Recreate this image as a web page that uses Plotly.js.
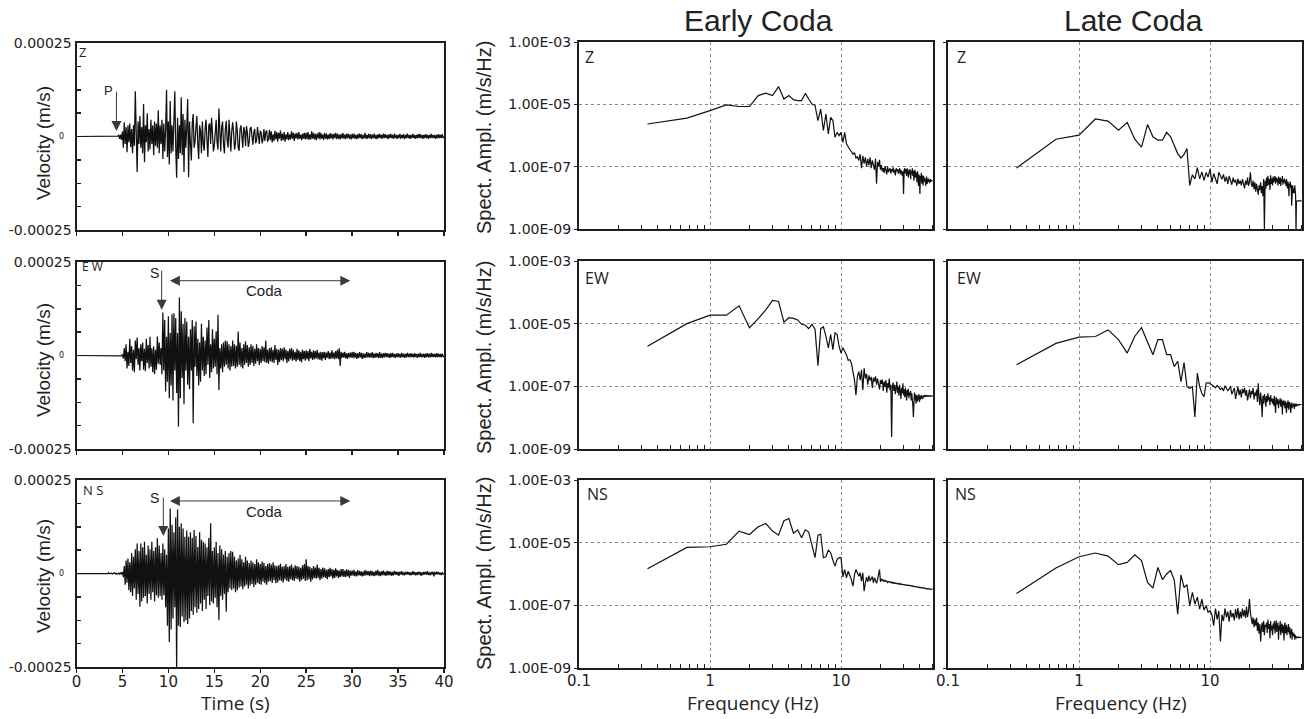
<!DOCTYPE html>
<html>
<head>
<meta charset="utf-8">
<script src="https://cdn.plot.ly/plotly-3.0.1.min.js"></script>
<style>
  html, body { margin: 0; padding: 0; background: #fff; }
  #chart { width: 1310px; height: 719px; }
</style>
</head>
<body>
<div id="chart"></div>
<script>
// ---- Velocity records, one sample every DT seconds, values in micrometres per second ----
const DT = 0.1;
const TIME_TICKS = [0, 5, 10, 15, 20, 25, 30, 35, 40];
const TIME_TICK_TEXT = ['0', '5', '10', '15', '20', '25', '30', '35', '40'];

const velZ = [
  0,0,0,0,0,0,0,0,0,0,
  0,0,0,0,0,0,0,0,0,0,
  0,0,0,0,0,0,0,0,0,0,
  0,0,0,0,0,0,0,0,0,0,
  0,0,0,0,0,1,4,-6,5,-9,
  14,-30,38,-20,25,-42,30,-15,35,-28,
  20,-45,30,-25,121,-35,-95,40,-20,55,
  -30,25,-45,87,-69,30,-15,62,-40,20,
  -35,45,-20,30,-50,40,-25,35,-30,70,
  -45,30,-20,45,-60,35,-40,20,125,-55,
  40,-75,95,-45,30,-40,60,121,-30,-110,
  50,-60,30,-45,105,-50,60,-95,45,-30,
  25,100,-109,40,-20,-64,35,60,-30,-15,
  25,55,-20,-60,30,15,-45,40,-20,-38,
  20,45,-10,-55,30,35,-20,50,10,-40,
  -25,30,45,-15,-35,75,-10,-40,25,40,
  -20,-45,20,42,-10,-30,45,-20,-40,15,
  38,10,-35,-20,40,15,-30,-38,20,30,
  -10,-30,25,15,-25,28,10,-28,-15,22,
  25,-5,-22,12,20,-18,-10,25,-8,-20,
  15,10,-18,-8,20,-12,12,16,-14,-6,
  18,-10,14,-16,6,-12,15,-8,12,-14,
  10,-6,16,-12,8,-10,12,-14,6,-8,
  12,-10,6,-8,14,-6,10,-12,8,-5,
  10,-8,12,-6,5,-10,8,-6,10,-8,
  10,-7,12,-9,6,-8,14,-6,10,-8,
  7,-10,8,-5,12,-8,10,-6,5,-9,
  10,-6,8,-8,5,-7,9,-5,7,-8,
  7,-4,10,-7,8,-6,5,-8,7,-5,
  9,-6,5,-7,8,-4,7,-6,5,-8,
  7,-5,8,-6,4,-7,6,-5,8,-4,
  6,-7,4,-5,10,-6,4,-6,7,-4,
  6,-7,5,-4,8,-6,4,-7,6,-4,
  7,-4,4,-6,8,-4,6,-4,4,-7,
  6,-4,7,-4,4,-6,8,-4,4,-6,
  4,-4,7,-6,4,-4,6,-7,4,-4,
  8,-4,4,-6,4,-4,7,-4,4,-6,
  4,-4,6,-4,7,-4,4,-6,4,-4,
  6,-4,4,-6,4,-4,7,-4,4,-4,
  4,-6,4,-4,6,-4,4,-4,6,-4,
  0
];

const velEW = [
  0,0,0,0,0,0,0,0,0,0,
  0,0,0,0,0,0,0,0,0,0,
  0,1,0,-1,0,0,1,0,-1,0,
  0,0,1,0,-1,0,0,1,0,0,
  -1,0,1,0,0,-1,0,1,0,-1,
  3,-8,20,-15,30,-35,10,-28,45,-20,
  25,-40,15,-45,40,-10,48,-25,20,-40,
  30,-15,35,-38,18,-42,45,-20,28,-35,
  50,-30,20,-45,25,-50,15,-38,51,-22,
  35,-25,20,-50,115,-40,95,-96,50,-70,
  105,-114,60,-80,110,-120,113,-40,100,-100,
  60,-190,155,-114,118,-60,85,-130,100,-40,
  91,-78,50,-90,70,-40,95,-181,78,-30,
  91,-55,45,-80,35,-70,85,-40,50,-55,
  40,-50,75,-25,95,-60,30,-45,70,-35,
  45,-30,65,-50,109,-92,20,-35,30,-45,
  35,-30,40,-25,38,-35,30,-40,25,-30,
  40,-28,30,-35,25,-30,64,-25,35,-30,
  20,-35,30,-25,38,-20,28,-30,22,-25,
  30,-20,25,-28,18,-22,30,-15,20,-25,
  18,-20,25,-15,22,-18,40,-20,15,-22,
  20,-15,22,-18,15,-20,28,-12,18,-25,
  15,-18,20,-12,18,-15,22,-10,16,-20,
  12,-15,18,-10,20,-14,15,-12,10,-16,
  18,-12,14,-15,10,-18,16,-10,12,-14,
  14,-10,12,-15,18,-8,10,-12,14,-10,
  12,-8,15,-10,8,-12,10,-14,9,-8,
  10,-12,8,-6,12,-10,8,-9,14,-8,
  8,-10,12,-8,15,-10,19,-28,10,-6,
  8,-6,10,-8,6,-9,7,-5,8,-6,
  9,-7,10,-6,7,-9,6,-7,9,-5,
  7,-9,6,-7,5,-6,9,-5,7,-6,
  6,-5,9,-7,5,-6,7,-5,6,-7,
  9,-6,5,-7,6,-5,7,-4,6,-5,
  5,-7,6,-4,7,-5,4,-6,5,-4,
  6,-5,4,-6,7,-4,5,-6,4,-5,
  7,-4,5,-5,6,-4,4,-5,6,-4,
  4,-6,5,-4,7,-5,4,-4,5,-6,
  5,-4,6,-5,4,-5,7,-4,5,-4,
  4,-5,6,-4,5,-4,4,-5,5,-4,
  0
];

const velNS = [
  0,0,0,0,0,0,0,0,0,0,
  0,1,0,-1,0,0,1,0,0,-1,
  0,1,-1,0,1,0,-1,0,1,0,
  -1,0,1,-1,0,2,-1,0,1,-1,
  0,2,-1,1,-2,0,1,-2,2,-1,
  4,-10,20,-30,35,-25,40,-45,30,-50,
  55,-60,45,-40,65,-70,80,-55,60,-89,
  80,-75,70,-65,85,-60,50,-80,75,-55,
  65,-70,85,-50,60,-75,70,-58,94,-65,
  75,-60,55,-70,80,-58,65,-90,50,-140,
  120,-183,174,-150,130,-120,110,-90,150,-262,
  171,-140,125,-143,134,-115,120,-130,98,-125,
  115,-135,98,-120,110,-100,95,-110,116,-90,
  100,-105,71,-95,110,-80,90,-100,85,-70,
  80,-95,70,-60,95,-85,134,-75,60,-80,
  70,-65,85,-90,55,-125,75,-60,65,-70,
  50,-55,60,-102,45,-50,55,-40,60,-45,
  58,-40,45,-50,35,-45,40,-38,50,-35,
  38,-42,30,-35,45,-30,35,-40,28,-32,
  35,-28,30,-36,25,-30,38,-25,30,-28,
  25,-30,32,-22,28,-26,20,-30,25,-22,
  28,-20,24,-25,30,-18,22,-26,20,-24,
  22,-18,26,-20,18,-24,20,-16,25,-20,
  18,-22,20,-15,24,-18,16,-20,22,-14,
  20,-16,18,-22,15,-18,22,-14,25,-20,
  38,-18,20,-15,18,-22,14,-16,20,-12,
  16,-14,24,-12,15,-18,12,-14,16,-10,
  14,-12,10,-15,12,-10,15,-8,12,-14,
  10,-12,14,-8,10,-12,8,-10,12,-8,
  12,-9,8,-10,11,-7,9,-12,8,-6,
  8,-6,10,-7,5,-8,9,-5,7,-6,
  6,-8,5,-6,9,-5,7,-4,6,-7,
  8,-5,6,-7,4,-6,8,-5,10,-6,
  5,-7,6,-4,8,-5,4,-6,7,-5,
  6,-4,5,-6,4,-5,7,-3,5,-4,
  4,-6,5,-3,6,-4,3,-5,4,-3,
  5,-3,4,-5,3,-4,6,-3,4,-5,
  3,-4,5,-3,4,-6,3,-4,5,-3,
  4,-3,6,-4,3,-5,4,-3,5,-8,
  4,-3,5,-2,4,-3,2,-4,3,-2,
  0
];

// ---- Amplitude spectra: one value per DF-Hz bin (first bin at DF), stored as log10(m/s/Hz) ----
const DF = 1 / 3;
const FREQ_TICKS = [0.1, 1, 10];
const FREQ_TICK_TEXT = ['0.1', '1', '10'];
const FREQ_MINOR = [0.2, 0.3, 0.4, 0.5, 0.6, 0.7, 0.8, 0.9, 2, 3, 4, 5, 6, 7, 8, 9, 20, 30, 40, 50];
const AMP_TICKS = [1e-9, 1e-7, 1e-5, 1e-3];
const AMP_TICK_TEXT = ['1.00E-09', '1.00E-07', '1.00E-05', '1.00E-03'];

const earlyZ = [
  -5.63,-5.44,-5.20,-5.02,-5.07,-5.07,-4.72,-4.64,-4.72,-4.43,
  -4.83,-4.72,-4.85,-4.88,-4.88,-4.65,-4.83,-4.99,-5.04,-5.52,
  -5.15,-5.84,-5.31,-5.95,-5.42,-5.52,-6.06,-5.90,-6.00,-5.90,
  -6.22,-5.90,-6.27,-6.38,-6.45,-6.52,-6.60,-6.55,-6.72,-6.68,
  -6.80,-6.60,-7.05,-6.65,-6.90,-6.70,-7.00,-6.75,-6.95,-6.70,
  -7.05,-6.80,-6.95,-7.10,-6.75,-7.55,-6.85,-7.00,-6.78,-7.10,
  -6.95,-7.15,-7.05,-7.20,-6.98,-7.12,-7.25,-7.00,-7.18,-7.10,
  -7.05,-7.22,-7.08,-7.15,-7.02,-7.20,-7.10,-7.28,-7.05,-7.15,
  -7.08,-7.22,-7.12,-7.05,-7.25,-7.10,-7.18,-7.30,-7.15,-7.88,
  -7.10,-7.05,-7.22,-7.08,-7.30,-7.05,-7.18,-7.35,-7.10,-7.25,
  -7.08,-7.40,-7.15,-7.22,-7.05,-7.30,-7.12,-7.45,-7.20,-7.10,
  -7.35,-7.18,-7.25,-7.50,-7.15,-7.30,-7.62,-7.25,-7.40,-7.88,
  -7.30,-7.45,-7.20,-7.55,-7.35,-7.28,-7.60,-7.30,-7.42,-7.35,
  -7.50,-7.38,-7.62,-7.40,-7.32,-7.55,-7.45,-7.50,-7.38,-7.48,
  -7.42,-7.52,-7.45,-7.40,-7.48,-7.45,-7.46,-7.44,-7.45,-7.45
];

const lateZ = [
  -7.04,-6.12,-5.99,-5.47,-5.54,-5.83,-5.58,-6.12,-6.37,-5.65,
  -6.04,-6.15,-6.15,-5.90,-6.04,-6.31,-6.58,-6.72,-6.61,-6.42,
  -7.60,-7.26,-7.39,-7.03,-7.39,-7.17,-7.44,-7.19,-7.33,-7.08,
  -7.50,-7.22,-7.38,-7.55,-7.18,-7.28,-7.40,-7.25,-7.48,-7.32,
  -7.55,-7.30,-7.45,-7.58,-7.35,-7.50,-7.42,-7.62,-7.38,-7.55,
  -7.45,-7.60,-7.40,-7.52,-7.70,-7.45,-7.58,-7.35,-7.62,-7.48,
  -7.18,-7.55,-7.65,-7.45,-7.72,-7.50,-7.80,-7.55,-7.68,-7.90,
  -7.60,-7.75,-7.50,-7.85,-7.62,-7.95,-7.40,-9.00,-7.45,-7.70,
  -7.35,-7.62,-7.30,-7.58,-7.40,-7.75,-7.28,-7.55,-7.38,-7.60,
  -7.32,-7.50,-7.42,-7.30,-7.55,-7.35,-7.48,-7.38,-7.60,-7.32,
  -7.45,-7.55,-7.35,-7.62,-7.40,-7.48,-7.30,-7.58,-7.42,-7.50,
  -7.38,-7.55,-7.45,-7.62,-7.40,-7.52,-7.70,-7.48,-7.58,-7.95,
  -7.55,-7.62,-7.48,-7.70,-7.58,-8.25,-7.80,-7.60,-7.72,-7.85,
  -7.70,-7.85,-7.60,-7.75,-7.90,-9.10,-8.10,-8.11,-8.10,-8.10,
  -8.11,-8.10,-8.10,-8.11,-8.10,-8.10,-8.11,-8.10,-8.10,-8.10
];

const earlyEW = [
  -5.72,-5.00,-4.73,-4.73,-4.43,-5.13,-4.84,-4.56,-4.26,-4.29,
  -4.95,-4.81,-4.83,-4.88,-5.02,-5.05,-5.16,-5.02,-5.18,-6.34,
  -5.16,-5.10,-5.40,-5.77,-5.34,-5.83,-5.29,-5.34,-5.72,-5.94,
  -5.77,-5.88,-5.99,-6.17,-6.15,-6.26,-6.58,-6.80,-7.28,-6.69,
  -6.53,-6.80,-6.47,-7.12,-6.42,-6.75,-6.60,-6.95,-6.65,-6.82,
  -6.70,-7.05,-6.72,-6.85,-6.68,-6.95,-6.75,-6.88,-7.10,-6.80,
  -6.92,-6.78,-7.15,-6.85,-7.02,-6.80,-7.20,-6.90,-7.05,-6.75,
  -7.12,-6.95,-8.62,-7.00,-6.88,-7.15,-6.95,-7.25,-7.05,-6.85,
  -7.20,-7.02,-7.30,-6.95,-7.15,-7.40,-7.05,-7.22,-6.90,-7.28,
  -7.10,-7.35,-7.05,-7.25,-7.45,-7.12,-7.30,-7.08,-7.38,-7.20,
  -7.28,-7.15,-7.45,-7.22,-7.35,-7.60,-7.98,-7.30,-7.20,-7.42,
  -7.25,-7.55,-7.35,-7.28,-7.48,-7.32,-7.40,-7.25,-7.50,-7.35,
  -7.30,-7.42,-7.28,-7.38,-7.32,-7.40,-7.30,-7.35,-7.28,-7.32,
  -7.30,-7.34,-7.28,-7.31,-7.30,-7.33,-7.29,-7.30,-7.32,-7.30,
  -7.31,-7.30,-7.30,-7.32,-7.30,-7.31,-7.30,-7.30,-7.31,-7.30
];

const lateEW = [
  -6.31,-5.63,-5.43,-5.41,-5.20,-5.51,-5.94,-5.40,-5.13,-5.56,
  -5.99,-5.51,-5.51,-5.99,-5.99,-6.37,-6.20,-6.85,-6.24,-7.01,
  -7.06,-7.01,-7.98,-6.58,-7.01,-7.23,-7.33,-6.90,-6.88,-6.92,
  -6.95,-7.00,-7.05,-6.97,-7.03,-7.10,-7.05,-7.15,-6.98,-7.06,
  -7.14,-7.08,-7.00,-7.25,-7.12,-7.05,-7.40,-7.15,-7.02,-7.28,
  -7.10,-7.35,-7.08,-7.22,-7.05,-7.30,-7.12,-7.45,-7.18,-7.10,
  -7.38,-7.15,-7.25,-7.05,-7.42,-7.20,-7.30,-7.10,-7.50,-6.90,
  -7.35,-7.60,-7.20,-7.45,-7.98,-7.30,-7.55,-7.25,-7.40,-7.65,
  -7.30,-7.50,-7.22,-7.45,-7.35,-7.60,-7.28,-7.48,-7.38,-7.55,
  -7.40,-7.62,-7.30,-7.52,-7.85,-7.35,-7.48,-7.58,-7.40,-7.70,
  -7.45,-7.55,-7.38,-7.65,-7.50,-7.42,-7.90,-7.48,-7.60,-7.45,
  -7.55,-7.70,-7.48,-7.62,-7.85,-7.52,-7.68,-7.45,-7.60,-7.75,
  -7.50,-7.65,-7.55,-7.85,-7.60,-7.52,-7.70,-7.58,-7.62,-7.55,
  -7.60,-7.72,-7.55,-7.62,-7.58,-7.65,-7.56,-7.60,-7.58,-7.62,
  -7.58,-7.60,-7.57,-7.59,-7.58,-7.58,-7.59,-7.58,-7.58,-7.58
];

const earlyNS = [
  -5.83,-5.15,-5.13,-5.05,-4.63,-4.74,-4.49,-4.39,-4.63,-4.76,
  -4.30,-4.23,-4.70,-4.59,-4.84,-4.59,-4.66,-5.05,-5.48,-4.76,
  -4.73,-5.48,-5.45,-5.24,-5.32,-5.56,-5.75,-5.53,-5.48,-5.48,
  -6.09,-5.86,-6.12,-5.91,-6.05,-6.18,-6.39,-6.02,-5.86,-5.96,
  -6.07,-5.96,-6.23,-5.96,-6.55,-6.28,-6.10,-6.25,-6.05,-6.22,
  -6.15,-6.08,-6.28,-6.12,-6.20,-6.30,-6.18,-6.05,-5.86,-6.25,
  -6.15,-6.22,-6.18,-6.25,-6.20,-6.24,-6.22,-6.27,-6.24,-6.26,
  -6.25,-6.28,-6.26,-6.29,-6.27,-6.30,-6.28,-6.30,-6.29,-6.31,
  -6.30,-6.32,-6.30,-6.33,-6.31,-6.33,-6.32,-6.34,-6.33,-6.34,
  -6.34,-6.35,-6.34,-6.36,-6.35,-6.36,-6.35,-6.37,-6.36,-6.37,
  -6.37,-6.38,-6.37,-6.39,-6.38,-6.39,-6.38,-6.40,-6.39,-6.40,
  -6.40,-6.41,-6.40,-6.42,-6.41,-6.42,-6.41,-6.43,-6.42,-6.43,
  -6.43,-6.44,-6.43,-6.45,-6.44,-6.45,-6.44,-6.46,-6.45,-6.46,
  -6.46,-6.47,-6.46,-6.47,-6.46,-6.48,-6.47,-6.48,-6.47,-6.48,
  -6.48,-6.49,-6.48,-6.48,-6.49,-6.48,-6.48,-6.49,-6.48,-6.48
];

const lateNS = [
  -6.62,-5.81,-5.45,-5.33,-5.43,-5.70,-5.63,-5.39,-5.57,-6.27,
  -6.45,-5.79,-6.18,-6.00,-5.89,-6.19,-7.28,-6.03,-6.43,-6.34,
  -7.01,-6.59,-6.96,-6.74,-7.12,-6.80,-7.15,-7.01,-7.22,-7.17,
  -7.30,-7.65,-7.10,-7.45,-7.18,-8.15,-7.30,-7.50,-7.10,-7.38,
  -7.20,-7.52,-7.15,-7.38,-7.25,-7.48,-7.12,-7.40,-7.08,-7.45,
  -7.20,-7.42,-7.10,-7.35,-7.15,-7.40,-7.05,-7.38,-7.18,-6.80,
  -7.25,-7.45,-7.60,-7.38,-7.70,-7.45,-7.65,-7.40,-7.82,-7.55,
  -7.90,-7.60,-8.15,-7.72,-7.55,-7.85,-7.50,-7.95,-7.62,-7.70,
  -7.55,-7.88,-7.45,-7.75,-7.60,-8.05,-7.50,-7.80,-7.65,-7.95,
  -7.58,-7.75,-7.50,-7.90,-7.62,-7.48,-7.85,-7.70,-7.55,-8.10,
  -7.65,-7.80,-7.50,-7.95,-7.70,-7.58,-7.88,-7.62,-7.75,-8.12,
  -7.68,-7.55,-7.90,-7.72,-7.62,-7.95,-7.70,-7.85,-7.60,-7.78,
  -7.92,-7.70,-8.05,-7.80,-7.90,-7.75,-8.10,-7.85,-7.95,-7.88,
  -8.00,-7.90,-8.10,-7.95,-8.02,-7.98,-8.05,-8.00,-8.03,-8.02,
  -8.02,-8.00,-8.03,-8.02,-8.01,-8.03,-8.02,-8.02,-8.02,-8.02
];

const COMPONENTS = ['Z', 'EW', 'NS'];
const SEIS_LABELS = ['Z', 'E W', 'N S'];

// ---- page geometry (pixels of the 1310 x 719 figure) ----
const W = 1310, H = 719;
const fx = p => p / W;
const fy = p => 1 - p / H;

const COL_SEIS = [76.5, 444];
const COL_EARLY = [579, 933];
const COL_LATE = [948, 1302];
const ROWS_SEIS = [[43, 230], [262, 449], [480, 667]];
const ROWS_SPEC = [[42, 229], [261, 449], [480, 668]];

const INK = '#1e1e1e';
const TICK_FONT = { family: 'DejaVu Sans, Verdana, sans-serif', size: 14, color: '#222' };
const ARIAL = 'Liberation Sans, Arial, sans-serif';
const SEGOE = 'Open Sans, Segoe UI, sans-serif';

const frame = { showline: true, mirror: true, linecolor: INK, linewidth: 2, zeroline: false, fixedrange: true };

const seisY = [-250, -187.5, -125, -62.5, 0, 62.5, 125, 187.5, 250].map(v => v * 1e-6);
const seisYText = ['-0.00025', '', '', '', '', '', '', '', '0.00025'];

const timeOf = arr => arr.map((_, i) => +(i * DT).toFixed(2));
const freqOf = arr => arr.map((_, i) => (i + 1) * DF);
const toMs = arr => arr.map(v => v * 1e-6);
const fromLog = arr => arr.map(v => Math.pow(10, v));

const layout = {
  width: W, height: H,
  margin: { l: 0, r: 0, t: 0, b: 0 },
  paper_bgcolor: '#fff', plot_bgcolor: '#fff',
  showlegend: false,
  annotations: []
};
const traces = [];

function axisKey(n) { return n === 1 ? '' : String(n); }

const velocity = [velZ, velEW, velNS];
const early = [earlyZ, earlyEW, earlyNS];
const late = [lateZ, lateEW, lateNS];

for (let r = 0; r < 3; r++) {
  // velocity panel: axes 1..3
  const ks = axisKey(r + 1);
  layout['xaxis' + ks] = Object.assign({}, frame, {
    domain: [fx(COL_SEIS[0]), fx(COL_SEIS[1])], anchor: 'y' + ks,
    range: [0, 40], tickmode: 'array', tickvals: TIME_TICKS, ticktext: TIME_TICK_TEXT,
    ticks: 'outside', ticklen: 4, tickwidth: 1.5, tickcolor: INK, ticklabelstandoff: -4,
    showticklabels: r === 2, tickfont: Object.assign({}, TICK_FONT, { size: 15 }), showgrid: false
  });
  layout['yaxis' + ks] = Object.assign({}, frame, {
    domain: [fy(ROWS_SEIS[r][1]), fy(ROWS_SEIS[r][0])], anchor: 'x' + ks,
    range: [-250e-6, 250e-6], tickmode: 'array', tickvals: seisY, ticktext: seisYText,
    ticks: 'inside', ticklen: 4, tickwidth: 1.5, tickcolor: INK,
    tickfont: TICK_FONT, showgrid: false
  });
  traces.push({
    type: 'scatter', mode: 'lines', x: timeOf(velocity[r]), y: toMs(velocity[r]),
    xaxis: 'x' + ks, yaxis: 'y' + ks, line: { color: '#111', width: 1.25 }, hoverinfo: 'skip'
  });

  // spectra: early coda axes 4..6, late coda axes 7..9
  [[COL_EARLY, early[r], r + 4, true], [COL_LATE, late[r], r + 7, false]].forEach(([col, spec, n, labelled]) => {
    const k = axisKey(n);
    layout['xaxis' + k] = Object.assign({}, frame, {
      domain: [fx(col[0]), fx(col[1])], anchor: 'y' + k,
      type: 'log', range: [-1, 1.702], tickmode: 'array', tickvals: FREQ_TICKS, ticktext: FREQ_TICK_TEXT,
      ticks: '', ticklabelstandoff: -2, showticklabels: r === 2, tickfont: Object.assign({}, TICK_FONT, { size: 15 }),
      showgrid: true, gridcolor: '#8c8c8c', griddash: 'dot', gridwidth: 1,
      minor: { tickmode: 'array', tickvals: FREQ_MINOR, ticks: 'inside', ticklen: 4, tickwidth: 1, tickcolor: INK, showgrid: false }
    });
    layout['yaxis' + k] = Object.assign({}, frame, {
      domain: [fy(ROWS_SPEC[r][1]), fy(ROWS_SPEC[r][0])], anchor: 'x' + k,
      type: 'log', range: [-9, -3], tickmode: 'array', tickvals: AMP_TICKS, ticktext: AMP_TICK_TEXT,
      ticks: 'outside', ticklen: 3, tickwidth: 1, tickcolor: INK,
      showticklabels: labelled, tickfont: TICK_FONT,
      showgrid: true, gridcolor: '#8c8c8c', griddash: 'dot', gridwidth: 1
    });
    traces.push({
      type: 'scatter', mode: 'lines', x: freqOf(spec), y: fromLog(spec),
      xaxis: 'x' + k, yaxis: 'y' + k, line: { color: '#111', width: 1.2 }, hoverinfo: 'skip'
    });
  });
}

const ann = layout.annotations;
function text(t, x, y, size, family, extra) {
  ann.push(Object.assign({
    text: t, xref: 'paper', yref: 'paper', x: fx(x), y: fy(y),
    xanchor: 'center', yanchor: 'middle', showarrow: false,
    font: { family: family, size: size, color: '#222' }
  }, extra || {}));
}

// column titles
text('Early Coda', 758, 20, 30, ARIAL);
text('Late Coda', 1133, 20, 30, ARIAL);

// axis titles
[143, 360, 576].forEach(y => text('Velocity (m/s)', 43, y, 19, ARIAL, { textangle: -90 }));
[138, 358, 574].forEach(y => text('Spect. Ampl. (m/s/Hz)', 484, y, 20, ARIAL, { textangle: -90 }));
const bottomTitle = { yanchor: 'bottom' };
text('Time (s)', 235, 718, 19, SEGOE, bottomTitle);
text('Frequency (Hz)', 753, 718, 19, SEGOE, bottomTitle);
text('Frequency (Hz)', 1121, 718, 19, SEGOE, bottomTitle);

// small zero labels on the velocity axes
['y', 'y2', 'y3'].forEach(ya => ann.push({
  text: '0', xref: 'paper', yref: ya, x: fx(66), y: 0, xanchor: 'right', yanchor: 'middle',
  showarrow: false, font: { family: 'DejaVu Sans, sans-serif', size: 8, color: '#222' }
}));

// component labels inside the panels
text(SEIS_LABELS[0], 77, 52.5, 13, SEGOE, { xanchor: 'left' });
text(SEIS_LABELS[1], 80, 266.5, 12, SEGOE, { xanchor: 'left' });
text(SEIS_LABELS[2], 81, 490, 13, SEGOE, { xanchor: 'left' });
[[57, 583], [277.5, 583], [494, 585]].forEach(([y, x], i) => text(COMPONENTS[i], x, y, 16, SEGOE, { xanchor: 'left' }));
[[57, 955], [277.5, 955], [494, 953]].forEach(([y, x], i) => text(COMPONENTS[i], x, y, 16, SEGOE, { xanchor: 'left' }));

// phase picks and coda window
text('P', 109, 90.5, 13, ARIAL);
text('S', 154, 273, 14, ARIAL);
text('S', 154, 498, 14, ARIAL);
text('Coda', 264, 290, 15, ARIAL);
text('Coda', 264, 511, 15, ARIAL);

function arrow(xa, ya, x, y, ax, ay, both) {
  const a = {
    text: '', xref: xa, yref: ya, axref: xa, ayref: ya,
    x: x, y: y, ax: ax, ay: ay, showarrow: true,
    arrowhead: 2, arrowsize: 2, arrowwidth: 1, arrowcolor: '#3a3a3a', standoff: 0
  };
  if (both) Object.assign(a, { arrowside: 'end+start', startarrowhead: 2, startarrowsize: 2, startstandoff: 0 });
  ann.push(a);
}
arrow('x', 'y', 4.35, 15e-6, 4.35, 124e-6);
arrow('x2', 'y2', 9.27, 122e-6, 9.27, 231e-6);
arrow('x3', 'y3', 9.45, 100e-6, 9.45, 207e-6);
arrow('x2', 'y2', 29.8, 200e-6, 10.0, 200e-6, true);
arrow('x3', 'y3', 29.8, 194e-6, 10.0, 194e-6, true);

Plotly.newPlot('chart', traces, layout, { staticPlot: true, displayModeBar: false });
</script>
</body>
</html>
